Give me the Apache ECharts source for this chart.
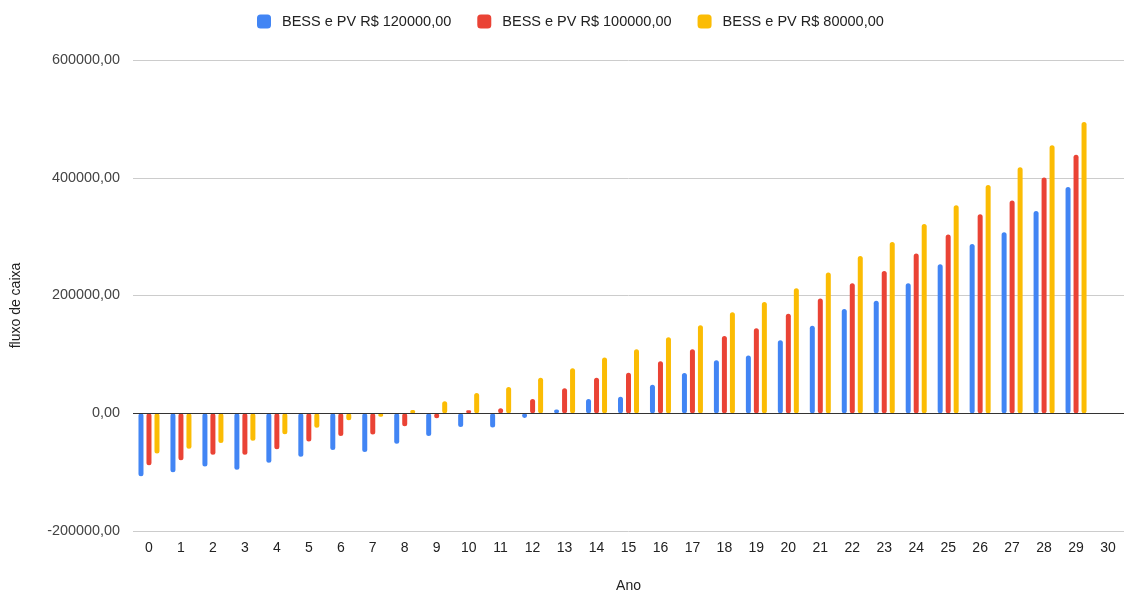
<!DOCTYPE html>
<html>
<head>
<meta charset="utf-8">
<script src="https://cdn.jsdelivr.net/npm/echarts@6/dist/echarts.min.js"></script>
<style>
html,body{margin:0;padding:0;background:#fff;}
#c{width:1124px;height:591px;}
</style>
</head>
<body>
<div id="c"></div>
<script>
const years = ['0','1','2','3','4','5','6','7','8','9','10','11','12','13','14','15','16','17','18','19','20','21','22','23','24','25','26','27','28','29','30'];
const seriesNames = ['BESS e PV R$ 120000,00','BESS e PV R$ 100000,00','BESS e PV R$ 80000,00'];
const bess120 = [-107000,-100000,-90500,-96000,-84000,-74000,-62500,-66000,-52000,-38500,-23500,-24000,-8000,6500,24000,28000,48500,68500,90000,98000,124000,148500,177000,191000,221000,253000,287500,307500,343500,384500,null];
const bess100 = [-88500,-80000,-70500,-70500,-61000,-48000,-38500,-36000,-22000,-8500,5000,8500,24000,42500,60500,69000,88500,108500,131000,144500,169000,195000,221000,241500,271500,303500,338000,361500,400500,439000,null];
const bess80 = [-68500,-60500,-50500,-46500,-35500,-24500,-12000,-6000,5500,20500,34500,44500,60500,76500,94500,108500,129000,149500,171500,189000,212500,239000,267000,291000,321500,353500,387500,418000,455000,494500,null];
const colors = ['#4285F4','#EA4335','#FBBC04'];

const chart = echarts.init(document.getElementById('c'));
const font = 'Liberation Sans, Arial, sans-serif';
const datasets = [bess120, bess100, bess80];
const series = datasets.map((d, i) => ({
  name: seriesNames[i],
  type: 'bar',
  data: d,
  barWidth: 5,
  barGap: '60%',
  itemStyle: {color: colors[i], borderRadius: 2.5},
  emphasis: {disabled: true}
}));
series[0].markLine = {
  silent: true,
  symbol: 'none',
  label: {show: false},
  lineStyle: {color: '#333', width: 1, type: 'solid'},
  data: [{yAxis: 0}],
  z: 10
};
chart.setOption({
  animation: false,
  textStyle: {fontFamily: font},
  color: colors,
  legend: {
    top: 9,
    left: 252,
    itemWidth: 14,
    itemHeight: 14,
    itemGap: 26,
    icon: 'roundRect',
    textStyle: {fontSize: 14.5, color: '#222', fontFamily: font, padding: [0, 0, 0, 6]},
    data: seriesNames
  },
  grid: {left: 133, right: 0, top: 60, bottom: 60, outerBoundsMode: 'none', containLabel: false},
  xAxis: {
    type: 'category',
    data: years,
    name: 'Ano',
    nameLocation: 'middle',
    nameGap: 48,
    nameTextStyle: {fontSize: 14, color: '#222', fontFamily: font},
    axisLine: {show: false},
    axisTick: {show: false},
    axisLabel: {fontSize: 14, color: '#222', margin: 10, fontFamily: font}
  },
  yAxis: {
    type: 'value',
    min: -200000,
    max: 600000,
    interval: 200000,
    name: 'fluxo de caixa',
    nameLocation: 'middle',
    nameGap: 110,
    nameTextStyle: {fontSize: 14, color: '#222', fontFamily: font, padding: [0, 20, 0, 0]},
    axisLine: {show: false},
    axisTick: {show: false},
    splitLine: {lineStyle: {color: '#cccccc'}},
    axisLabel: {
      fontSize: 14.4, color: '#444', margin: 13, fontFamily: font,
      formatter: v => v.toFixed(2).replace('.', ',')
    }
  },
  series: series
});
</script>
</body>
</html>
